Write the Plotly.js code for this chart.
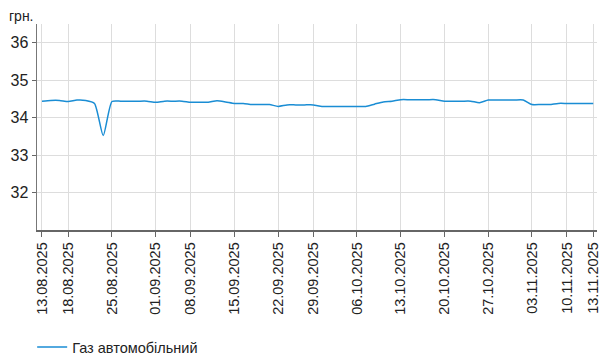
<!DOCTYPE html>
<html>
<head>
<meta charset="utf-8">
<script src="https://cdn.plot.ly/plotly-3.0.1.min.js"></script>
<style>html,body{margin:0;padding:0;background:#fff;}#chart{width:607px;height:360px;}</style>
</head>
<body>
<div id="chart"></div>
<script>
const dates = [
  "13.08.2025","14.08.2025","15.08.2025","18.08.2025","19.08.2025","20.08.2025","21.08.2025","22.08.2025",
  "25.08.2025","26.08.2025","27.08.2025","28.08.2025","29.08.2025",
  "01.09.2025","02.09.2025","03.09.2025","04.09.2025",
  "08.09.2025","09.09.2025","10.09.2025","11.09.2025","12.09.2025",
  "15.09.2025","16.09.2025","17.09.2025","18.09.2025","19.09.2025",
  "22.09.2025","23.09.2025","24.09.2025","25.09.2025",
  "29.09.2025","30.09.2025","01.10.2025","02.10.2025","03.10.2025",
  "06.10.2025","07.10.2025","08.10.2025","09.10.2025","10.10.2025",
  "13.10.2025","14.10.2025","15.10.2025","16.10.2025","17.10.2025",
  "20.10.2025","21.10.2025","22.10.2025","23.10.2025","24.10.2025",
  "27.10.2025","28.10.2025","29.10.2025","30.10.2025","31.10.2025",
  "03.11.2025","04.11.2025","05.11.2025","06.11.2025",
  "10.11.2025","11.11.2025","12.11.2025","13.11.2025"
];
const gasPrice = [
  34.44,34.46,34.46,34.43,34.47,34.46,34.38,33.52,
  34.43,34.44,34.44,34.44,34.44,
  34.41,34.44,34.44,34.44,
  34.41,34.41,34.41,34.45,34.42,
  34.38,34.38,34.35,34.35,34.35,
  34.30,34.34,34.34,34.34,
  34.34,34.30,34.30,34.30,34.30,
  34.30,34.30,34.36,34.42,34.44,
  34.48,34.48,34.48,34.48,34.48,
  34.44,34.44,34.44,34.44,34.40,
  34.47,34.47,34.47,34.47,34.47,
  34.35,34.35,34.35,34.38,
  34.38,34.38,34.38,34.38
];
const tickDates = [
  "13.08.2025","18.08.2025","25.08.2025","01.09.2025","08.09.2025","15.09.2025","22.09.2025",
  "29.09.2025","06.10.2025","13.10.2025","20.10.2025","27.10.2025","03.11.2025","10.11.2025","13.11.2025"
];
const yTicks = [32,33,34,35,36];
const seriesName = "Газ автомобільний";
const unitLabel = "грн.";

const font = "Arial, 'Liberation Sans', sans-serif";

Plotly.newPlot("chart", [{
  x: dates,
  y: gasPrice,
  type: "scatter",
  mode: "lines",
  name: seriesName,
  line: {color: "#1a8dd4", width: 1.5, shape: "spline", smoothing: 0.6},
  hoverinfo: "x+y"
}], {
  width: 607,
  height: 360,
  margin: {l: 37, r: 10, t: 24, b: 130},
  paper_bgcolor: "#fff",
  plot_bgcolor: "#fff",
  font: {family: font, color: "#222"},
  showlegend: true,
  legend: {
    orientation: "h",
    xref: "container", yref: "container",
    x: 0.053, xanchor: "left",
    y: 0.036, yanchor: "middle",
    font: {size: 14.5, family: font, color: "#222"},
    bgcolor: "rgba(0,0,0,0)"
  },
  xaxis: {
    type: "category",
    categoryorder: "array",
    categoryarray: dates,
    range: [-0.57, 63.43],
    automargin: false,
    tickmode: "array",
    tickvals: tickDates,
    ticktext: tickDates,
    tickangle: -90,
    tickfont: {size: 14.5, family: font, color: "#222"},
    ticks: "outside",
    ticklen: 5,
    tickcolor: "#666",
    showgrid: true,
    gridcolor: "#dddddd",
    gridwidth: 1,
    showline: true,
    linecolor: "#666",
    linewidth: 1.5,
    zeroline: false,
    fixedrange: true
  },
  yaxis: {
    range: [31, 36.5],
    automargin: false,
    tickmode: "array",
    tickvals: yTicks,
    ticktext: yTicks.map(String),
    tickfont: {size: 16, family: font, color: "#222"},
    ticks: "outside",
    ticklen: 4,
    tickcolor: "#666",
    showgrid: true,
    gridcolor: "#dddddd",
    gridwidth: 1,
    showline: true,
    linecolor: "#777",
    linewidth: 1.5,
    zeroline: false,
    fixedrange: true
  },
  annotations: [{
    text: unitLabel,
    xref: "paper", yref: "paper",
    x: -0.053, xanchor: "left",
    y: 1.04, yanchor: "middle",
    showarrow: false,
    font: {size: 14, family: font, color: "#222"}
  }]
}, {displayModeBar: false, staticPlot: true});
</script>
</body>
</html>
